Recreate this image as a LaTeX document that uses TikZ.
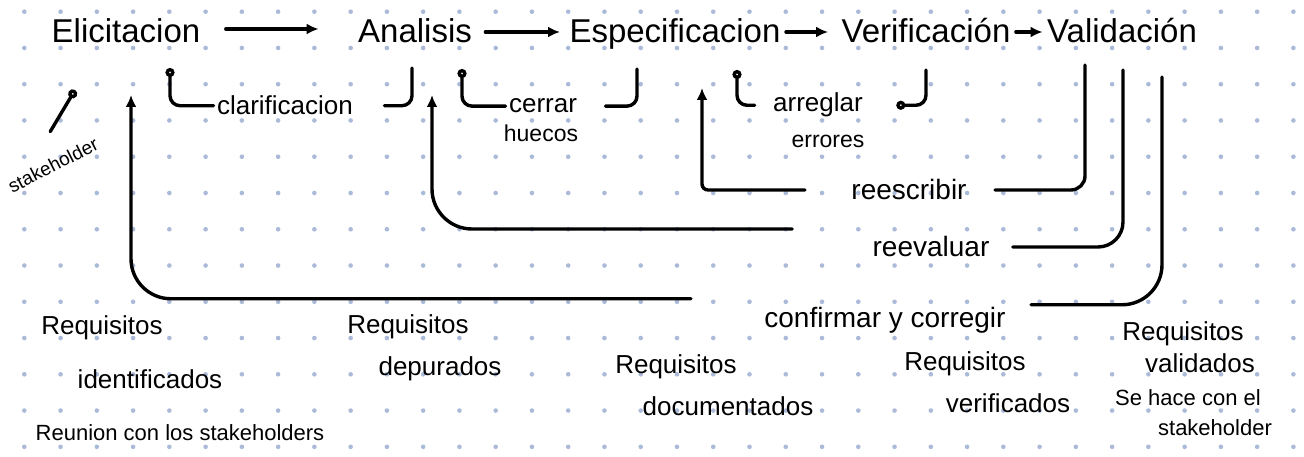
\documentclass[tikz,border=0pt]{standalone}
\usepackage{fontspec}
\setmainfont{Liberation Sans}
\usetikzlibrary{arrows.meta}

\definecolor{dotgray}{RGB}{170,186,216}

\tikzset{
  stage/.style={anchor=base, font=\fontsize{33}{38}\selectfont},
  lbl/.style={anchor=base, font=\fontsize{26}{30}\selectfont},
  sublbl/.style={anchor=base, font=\fontsize{23}{26}\selectfont},
  loopword/.style={anchor=base, font=\fontsize{28}{32}\selectfont},
  req/.style={anchor=base, font=\fontsize{26}{30}\selectfont},
  small/.style={anchor=base, font=\fontsize{22}{25}\selectfont},
  pen/.style={line width=3.4pt, line cap=round, line join=round},
  fwd/.style={pen, -{Latex[length=12pt,width=11pt]}},
  ring/.style={pen, -{Circle[open,length=9pt,width=9pt]}},
}

\begin{document}
\begin{tikzpicture}[x=1pt, y=-1pt]
  \useasboundingbox (0,0) rectangle (1304,457);
  \fill[white] (0,0) rectangle (1304,457);
  \foreach \i in {0,...,35}
    \foreach \j in {0,...,12}
      \fill[dotgray] (24.3+36.26*\i, 11.7+36.26*\j) circle (2.3pt);

  % stages
  \node[stage] (eli) at (126,43) {Elicitacion};
  \node[stage] (ana) at (415,43) {Analisis};
  \node[stage] (esp) at (675,43) {Especificacion};
  \node[stage] (ver) at (926,43) {Verificación};
  \node[stage] (val) at (1122,43) {Validación};

  \draw[fwd, shorten <=22pt, shorten >=36pt] ([yshift=14pt]eli.base east) -- ([yshift=14pt]ana.base west);
  \draw[fwd, shorten <=10pt, shorten >=6pt] ([yshift=11pt]ana.base east) -- ([yshift=11pt]esp.base west);
  \draw[fwd, shorten <=2pt, shorten >=10pt] ([yshift=11pt]esp.base east) -- ([yshift=11pt]ver.base west);
  \draw[fwd, shorten <=2pt, shorten >=1pt] ([yshift=11pt]ver.base east) -- ([yshift=11pt]val.base west);

  % stakeholder
  \node[font=\fontsize{19}{22}\selectfont, rotate=27] (stk) at (53,165) {stakeholder};
  \draw[ring] ([shift={(2pt,24pt)}]stk.north) -- ([xshift=-51pt,yshift=-47pt]eli.base);

  % short loops
  \node[lbl] (clar) at (285,115) {clarificacion};
  \draw[ring, rounded corners=10pt, shorten >=25pt] (clar.west) -| ([xshift=44pt]eli.base);
  \draw[pen, rounded corners=10pt, shorten >=25pt] ([xshift=28pt]clar.east) -| ([xshift=-3pt]ana.base);

  \node[lbl] (cer) at (543,113) {cerrar};
  \node[sublbl] (hue) at (541,142) {huecos};
  \draw[ring, rounded corners=10pt, shorten >=26pt] (cer.west) -| ([xshift=47pt]ana.base);
  \draw[pen, rounded corners=10pt, shorten >=26pt] ([xshift=25pt]cer.east) -| ([xshift=-38pt]esp.base);

  \node[lbl] (arr) at (818,112) {arreglar};
  \node[sublbl] (err) at (828,148) {errores};
  \draw[ring, rounded corners=10pt, shorten >=27pt] ([xshift=-15pt]arr.west) -| ([xshift=62pt]esp.base);
  \draw[pen, {Circle[open,length=9pt,width=9pt]}-, rounded corners=10pt, shorten >=27pt] ([xshift=30pt]arr.east) -| (ver.base);

  % loops from validacion
  \node[loopword] (ree) at (909,200) {reescribir};
  \draw[pen, rounded corners=14pt, shorten <=22pt] ([xshift=-37pt]val.base) |- ([xshift=25pt]ree.east);
  \draw[fwd, rounded corners=6pt, shorten >=45pt] ([xshift=-43pt]ree.west) -| ([xshift=27pt]esp.base);

  \node[loopword] (rev) at (931,257) {reevaluar};
  \draw[pen, rounded corners=25pt, shorten <=27pt] ([xshift=1pt]val.base) |- ([xshift=20pt]rev.east);
  \draw[fwd, rounded corners=40pt, shorten >=52pt] ([xshift=-77pt,yshift=18pt]rev.west) -| ([xshift=17pt]ana.base);

  \node[loopword] (con) at (885,327) {confirmar y corregir};
  \draw[pen, rounded corners=40pt, shorten <=34pt] ([xshift=40pt]val.base) |- ([xshift=22pt,yshift=15pt]con.east);
  \draw[fwd, rounded corners=40pt, shorten >=52pt] ([xshift=-70pt,yshift=21pt]con.west) -| ([xshift=5pt]eli.base);

  % results
  \node[req] (r1) at (102,334) {Requisitos};
  \node[req] (i1) at (150,388) {identificados};
  \node[small] (st1) at (180,440) {Reunion con los stakeholders};
  \node[req] (r2) at (408,333) {Requisitos};
  \node[req] (d2) at (440,375) {depurados};
  \node[req] (r3) at (676,373) {Requisitos};
  \node[req] (d3) at (728,415) {documentados};
  \node[req] (r4) at (965,370) {Requisitos};
  \node[req] (v4) at (1008,412) {verificados};
  \node[req] (r5) at (1183,340) {Requisitos};
  \node[req] (v5) at (1200,372) {validados};
  \node[small] (s5) at (1188,405) {Se hace con el};
  \node[small] (k5) at (1215,435) {stakeholder};
\end{tikzpicture}
\end{document}
